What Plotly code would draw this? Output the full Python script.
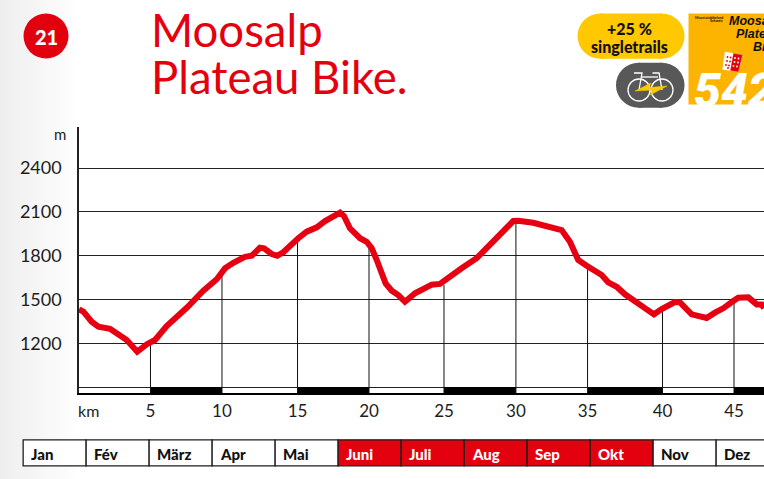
import plotly.graph_objects as go

W, H = 764, 479
km = [0, 0.30, 0.87, 1.33, 2.13, 2.82, 3.28, 4.00, 4.69, 5.22, 6.02, 7.40, 8.54, 9.46, 10.03, 10.60, 11.40, 11.86, 12.43, 12.71,
      13.24, 13.62, 14.03, 15.06, 15.64, 16.33, 16.90, 17.93, 18.20, 18.61, 19.30, 19.76, 20.10, 20.45, 21.06, 21.48, 21.93, 22.39,
      23.08, 24.22, 24.79, 26.28, 27.31, 29.83, 30.17, 31.20, 33.15, 33.72, 34.29, 34.87, 35.90, 36.35, 36.93, 37.50, 38.30, 38.99,
      39.49, 40.02, 40.93, 41.28, 42.08, 43.11, 43.68, 44.25, 44.94, 45.28, 45.97, 46.55, 46.89, 47.05]
elevation = [1432, 1416, 1347, 1313, 1299, 1256, 1222, 1142, 1195, 1222, 1318, 1443, 1560, 1638, 1713, 1751, 1792, 1799, 1854, 1850,
             1811, 1799, 1823, 1919, 1964, 1994, 2037, 2094, 2071, 1987, 1919, 1895, 1852, 1770, 1610, 1560, 1530, 1484,
             1542, 1601, 1606, 1713, 1782, 2037, 2039, 2025, 1975, 1895, 1770, 1731, 1667, 1617, 1587, 1535, 1473, 1432,
             1398, 1434, 1482, 1480, 1398, 1373, 1409, 1439, 1489, 1512, 1514, 1466, 1466, 1441]
km_marks = [4.91, 9.82, 15.01, 19.92, 25.07, 30.01, 34.93, 40.08, 44.99]
km_labels = ["5", "10", "15", "20", "25", "30", "35", "40", "45"]
mark_elev = [1200, 1690, 1915, 1895, 1600, 2030, 1720, 1430, 1500]
black_start = [4.91, 15.01, 25.07, 34.93, 44.99]
black_end = [9.82, 19.92, 30.01, 40.08, 47.05]
elev_ticks = [900, 1200, 1500, 1800, 2100, 2400]
elev_labels = ["", "1200", "1500", "1800", "2100", "2400"]
months = ["Jan", "Fév", "März", "Apr", "Mai", "Juni", "Juli", "Aug", "Sep", "Okt", "Nov", "Dez"]
season = [0, 0, 0, 0, 0, 1, 1, 1, 1, 1, 0, 0]

RED = "#e3000f"
INK = "#1d1d1b"
FONT = "Lato"
BOT = 859
TOP = 2681

def X(x):
    return x / W

def Y(y):
    return 1 - y / H

def circle(cx, cy, r, fill, line=None, lw=0):
    return dict(type="circle", xref="paper", yref="paper", x0=X(cx - r), x1=X(cx + r), y0=Y(cy + r), y1=Y(cy - r),
                fillcolor=fill, line=dict(color=line or fill, width=lw), layer="above")

def rect(x0, y0, x1, y1, fill, layer="above"):
    return dict(type="rect", xref="paper", yref="paper", x0=X(x0), x1=X(x1), y0=Y(y1), y1=Y(y0),
                fillcolor=fill, line=dict(width=0), layer=layer)

def seg(pts, color, w=1.3, fill=None, close=False):
    d = "M" + " L".join(f"{X(a):.5f},{Y(b):.5f}" for a, b in pts) + (" Z" if close else "")
    return dict(type="path", xref="paper", yref="paper", path=d, fillcolor=fill or "rgba(0,0,0,0)",
                line=dict(color=color, width=w), layer="above")

def pill(x0, y0, x1, y1, fill):
    r = (y1 - y0) / 2
    return [rect(x0 + r, y0, x1 - r, y1, fill), circle(x0 + r, y0 + r, r, fill), circle(x1 - r, y0 + r, r, fill)]

shapes = []
steps = 20
for i in range(steps):
    g = 238 + int(17 * (i + 1) / steps)
    shapes.append(rect(i * 4.0, 0, (i + 1) * 4.0 + 0.5, H, f"rgb({g},{g},{g})", "below"))
shapes.append(circle(46, 36, 22.5, "#e2000f"))
shapes += pill(577.5, 13.5, 684.5, 58.7, "#ffc800")
shapes += pill(616, 62.7, 684.5, 107.7, "#585858")
shapes.append(rect(688.5, 13.5, 764, 104.5, "#fdb400"))
# e-bike icon
shapes.append(circle(639, 90, 11, "rgba(0,0,0,0)", "white", 1.3))
shapes.append(circle(662, 90, 11, "rgba(0,0,0,0)", "white", 1.3))
shapes.append(seg([(634, 73), (642, 73), (639, 90)], "white"))
shapes.append(seg([(641.5, 77), (658, 77)], "white"))
shapes.append(seg([(652.5, 73), (659, 73), (662, 90)], "white"))
shapes.append(seg([(635, 91), (651, 83), (649, 87.5), (667, 86), (650, 95), (652.5, 90)], "#ffc800", 0.5, "#ffc800", True))
# canton flag
shapes.append(seg([(725, 52), (742.3, 55), (738.3, 71.7), (722.7, 69.3)], "white", 0.5, "white", True))
shapes.append(seg([(733.5, 53.5), (742.3, 55), (738.3, 71.7), (730.5, 70.5)], RED, 0.3, RED, True))
for a, b in [(727.5, 57), (730.5, 57.5), (727, 61), (730, 61.5), (726, 65), (729, 65.5), (728, 68)]:
    shapes.append(circle(a, b, 0.9, RED))
for a, b in [(735, 58), (738.5, 58.5), (734.5, 62), (738, 62.5), (733.5, 66), (737, 66.5)]:
    shapes.append(circle(a, b, 0.9, "white"))

fig = go.Figure()
fig.add_trace(go.Bar(x=[i + 0.5 for i in range(12)], y=[1] * 12, width=1, xaxis="x2", yaxis="y2",
                     marker=dict(color=[RED if s else "white" for s in season], line=dict(color=INK, width=1.3)),
                     cliponaxis=False, hoverinfo="skip", showlegend=False))
fig.add_trace(go.Bar(x=[(a + b) / 2 for a, b in zip(black_start, black_end)],
                     width=[b - a for a, b in zip(black_start, black_end)],
                     y=[900 - BOT] * 5, base=[BOT] * 5, marker=dict(color="black", line=dict(width=0)),
                     hoverinfo="skip", showlegend=False))
dx, dy = [], []
for k, e in zip(km_marks, mark_elev):
    dx += [k, k, None]
    dy += [BOT, e, None]
fig.add_trace(go.Scatter(x=dx, y=dy, mode="lines", line=dict(color="#111", width=1), hoverinfo="skip", showlegend=False))
fig.add_trace(go.Scatter(x=km, y=elevation, mode="lines", line=dict(color="#e60012", width=6), cliponaxis=False, showlegend=False))

anns = []
def T(x, y, text, size, color, anchor="left", weight=400, family=FONT, style="normal"):
    anns.append(dict(xref="paper", yref="paper", x=X(x), y=Y(y), text=text, showarrow=False, xanchor=anchor, yanchor="middle",
                     align=anchor, font=dict(size=size, color=color, family=family, weight=weight, style=style), borderpad=0))

T(149.5, 29.5, "Moosalp", 45.5, RED)
T(149.5, 76.5, "Plateau Bike.", 45.5, RED)
T(46, 36.5, "21", 20, "white", "center", 900)
T(629.5, 29, "+25 %", 16, "#111", "center", 900)
T(629.5, 46, "singletrails", 16, "#111", "center", 900)
T(728, 21, "Moosalp", 12.5, "#111", "left", 700, "Liberation Sans", "italic")
T(735, 34, "Plateau", 12.5, "#111", "left", 700, "Liberation Sans", "italic")
T(752, 47, "Bike", 12.5, "#111", "left", 700, "Liberation Sans", "italic")
T(724, 17.5, "Mountainbikeland", 3.5, "#111", "right", 700)
T(724, 21, "Schweiz", 3.5, "#111", "right", 700)
T(693, 90.5, "542", 48, "white", "left", 900, "Roboto", "italic")
T(60, 134, "m", 15, INK, "center")
T(88, 410.5, "km", 16, INK, "center")
for i, m in enumerate(months):
    anns.append(dict(xref="x2", yref="y2", x=i + 0.09, y=0.47, text=m, showarrow=False, xanchor="left", yanchor="middle",
                     font=dict(size=15, family=FONT, weight=900, color="white" if season[i] else "#111")))

fig.update_layout(
    width=W, height=H, margin=dict(l=0, r=0, t=0, b=0), autosize=False, paper_bgcolor="white", plot_bgcolor="rgba(0,0,0,0)",
    shapes=shapes, annotations=anns, showlegend=False, barmode="overlay", bargap=0,
    xaxis=dict(domain=[79 / W, 1], range=[0, 47.05], tickvals=km_marks, ticktext=km_labels, showgrid=False, zeroline=False,
               showline=True, linecolor="black", linewidth=1.5, ticks="", ticklabelstandoff=2,
               tickfont=dict(family=FONT, size=17, color=INK)),
    yaxis=dict(domain=[(H - 393) / H, (H - 127) / H], range=[BOT, TOP], tickvals=elev_ticks, ticktext=elev_labels, showgrid=True,
               gridcolor="#222", gridwidth=1, zeroline=False, showline=True, linecolor="#222", linewidth=1.5, ticks="",
               ticklabelstandoff=12, tickfont=dict(family=FONT, size=18, color=INK)),
    xaxis2=dict(domain=[21.8 / W, 1], range=[-0.0238, 11.757], anchor="y2", visible=False),
    yaxis2=dict(domain=[(H - 468) / H, (H - 438.5) / H], range=[-0.0566, 1.0566], anchor="x2", visible=False),
)
fig.write_html("out.html", config={"displayModeBar": False},
               post_script="document.body.style.margin='0';document.body.style.overflow='hidden';")
